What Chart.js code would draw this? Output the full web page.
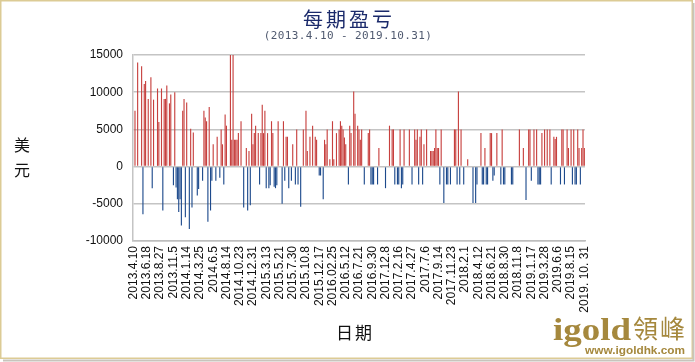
<!DOCTYPE html>
<html>
<head>
<meta charset="utf-8">
<script src="https://cdn.jsdelivr.net/npm/chart.js@4/dist/chart.umd.min.js"></script>
<style>
  html, body { margin: 0; padding: 0; background: #fff; }
  #wrap { position: relative; width: 695px; height: 362px; }
</style>
</head>
<body>
<div id="wrap"><canvas id="pnl-chart" width="695" height="362"></canvas></div>
<script>
// tick labels, one every 10 periods
const tickLabels = ['2013.4.10', '2013.6.18', '2013.8.27', '2013.11.5', '2014.1.14', '2014.3.25', '2014.6.5',
    '2014.8.14', '2014.10.23', '2014.12.31', '2015.3.13', '2015.5.21', '2015.7.30', '2015.10.8', '2015.12.17',
    '2016.02.25', '2016.5.12', '2016.7.21', '2016.9.30', '2017.12.8', '2017.2.16', '2017.4.27', '2017.7.6',
    '2017.9.14', '2017.11.23', '2018.2.1', '2018.4.12', '2018.6.21', '2018.8.30', '2018.11.8', '2019.1.17',
    '2019.3.28', '2019.6.6', '2019.8.15', '2019. 10. 31'];

// profit / loss per period (USD)
const pnlValues = [
    0, 7500, 0, 14000, 0, 0, 13500, -6400, 11100, 11500, 0, 9100, 0, 12000, -2900, 9000, 0, 0,
    10500, 6000, 0, 10500, -5900, 9100, 9100, 10900, 0, 8500, 9700, 0, -2500, 10000, -2800, -4400, -6100,
    -4400, -7900, 7500, 9100, -6800, 8600, 0, -8400, 5100, -5500, 4600, 0, 0, -3900, -3000, 0, 0,
    -1900, 7500, 6600, 6100, -7400, 8000, -5900, -1900, 3000, 0, -1900, 4000, 0, -1500, 5000, 3000, -2400,
    7000, 5500, 0, 0, 16000, 3600, 16000, 3600, 3600, 3600, 4500, 0, 6100, 0, -5500, 0,
    2500, -5900, 2100, -5200, 7100, 3000, 4500, 5500, 0, 4500, -2400, 4500, 8300, 4500, 7500, -2900, 4500,
    -2900, -2500, 6100, 4500, -2700, -2900, -2500, 6100, 0, 0, -5000, 6100, -1900, 4000, 4000, -2900, 0,
    -1900, 3000, 0, -2400, 5000, -2400, 0, -5400, 0, 5000, 0, 7500, 2100, 0, 4000, 0, 5500, 0, 4000,
    3600, 0, -1200, -1200, 0, -4400, 3600, 3000, 5000, 0, 1000, 0, 6100, 1000, 0,
    4500, 0, 5000, 6100, 5500, 5000, 3900, 3000, 0, -2400, 5500, 4500, 0, 10100, 7100, 0, 5500, 5000,
    3600, 5000, 0, -2400, 0, 0, 4500, 5000, -2400, -2400, -2400, 0, 0, -2400, 2500, 0,
    0, 0, 0, -2900, 0, 0, 5500, 0, 5000, 5000, -2400, 0, -2400, -2400, 5000, -2900, -2400, 5000, 0, 0,
    0, 5000, 0, -2400, 0, 5000, 3600, 5000, -2400, 4000, 5000, -2400, 3000, 0,
    5000, 0, 0, 2100, 2100, 2100, 2500, 5000, 2500, 2500, -2400, 5000, 0, -4900, 0, -2400, -2400, 0,
    -2400, 0, 0, 5000, 5000, -2400, 10100, -2400, 5000, 0, -2400, 0, 0, 1000, 0,
    0, 0, -4900, 0, -4900, -2400, 0, 0, 4500, -2400, -2400, 2500, -2400, -2400, 0, 4500, 4500, -1900,
    -1200, 0, 4500, 0, 0, -2400, 5000, -2400, -2400, 0, 0, 0, 0, -2400, -2400, 0,
    0, 0, 0, 5000, 0, 0, 2500, 0, -4500, 0, 5000, 5000, -1900, 0, 5000, 0, 5000, -2400, -2400, -2400,
    4500, 0, 5000, 0, 5000, 0, 5000, -2400, 0, 4000, 3700, 4000, 0, 0,
    -2400, 5000, 5000, -2400, 0, 5000, 2500, 0, 5000, -2400, 5000, -2400, -2400, 5000, 2500, -2400,
    2500, 5000, 2500
];

const yTicks = [15000, 10000, 5000, 0, -5000, -10000];

// category labels: a date on every 10th period
const categories = pnlValues.map((v, i) => (i % 10 === 0 ? tickLabels[i / 10] : ''));

const GOLD = '#a5883d';

// titles, axis names, watermark and frame
const decorPlugin = {
    id: 'decor',
    beforeDraw(chart) {
        const ctx = chart.ctx;
        ctx.save();
        ctx.fillStyle = '#fff';
        ctx.fillRect(0, 0, chart.width, chart.height);
        ctx.restore();
    },
    afterDraw(chart) {
        const ctx = chart.ctx;
        ctx.save();
        ctx.textAlign = 'center';
        ctx.textBaseline = 'middle';

        ctx.fillStyle = '#1b2a6b';
        ctx.font = '20px "Noto Sans CJK SC"';
        ctx.letterSpacing = '3px';
        ctx.fillText('每期盈亏', 349, 19);

        ctx.fillStyle = '#4f596f';
        ctx.font = '11px "DejaVu Sans Mono"';
        ctx.letterSpacing = '0.4px';
        ctx.fillText('(2013.4.10 - 2019.10.31)', 348, 36);

        ctx.letterSpacing = '0px';
        ctx.fillStyle = '#111';
        ctx.font = '16px "Noto Sans CJK SC"';
        ctx.fillText('美', 22, 145);
        ctx.fillText('元', 22, 170);

        ctx.font = '17px "Noto Sans CJK SC"';
        ctx.letterSpacing = '2px';
        ctx.fillText('日期', 355, 333);
        ctx.letterSpacing = '0px';

        // watermark
        ctx.fillStyle = GOLD;
        ctx.textAlign = 'left';
        ctx.textBaseline = 'alphabetic';
        ctx.font = 'bold 31px "Liberation Serif"';
        let w = ctx.measureText('igold').width;
        ctx.save();
        ctx.translate(553, 340);
        ctx.scale(78 / w, 1);
        ctx.fillText('igold', 0, 0);
        ctx.restore();

        ctx.font = '25px "Noto Sans CJK TC"';
        ctx.letterSpacing = '2px';
        ctx.fillText('領峰', 633, 338);
        ctx.letterSpacing = '0px';

        ctx.font = 'bold 11px "Liberation Sans"';
        w = ctx.measureText('www.igoldhk.com').width;
        ctx.save();
        ctx.translate(585, 354);
        ctx.scale(100 / w, 1);
        ctx.fillText('www.igoldhk.com', 0, 0);
        ctx.restore();

        // frame
        ctx.strokeStyle = '#dccb95';
        ctx.lineWidth = 1.5;
        ctx.strokeRect(0.75, 0.75, 691.5, 357.5);
        ctx.strokeStyle = '#c8c4bc';
        ctx.lineWidth = 2;
        ctx.beginPath();
        ctx.moveTo(693.5, 3);
        ctx.lineTo(693.5, 360.5);
        ctx.lineTo(3, 360.5);
        ctx.stroke();
        ctx.restore();
    }
};

const ctxPnl = document.getElementById('pnl-chart').getContext('2d');
new Chart(ctxPnl, {
    type: 'bar',
    data: {
        labels: categories,
        datasets: [{
            data: pnlValues,
            backgroundColor: pnlValues.map(v => (v >= 0 ? '#c7403e' : '#1d4a8c')),
            barPercentage: 1.0,
            categoryPercentage: 0.85
        }]
    },
    options: {
        responsive: false,
        animation: false,
        layout: {
            padding: { left: 0, right: 110, top: 55, bottom: 0 }
        },
        plugins: {
            legend: { display: false },
            tooltip: { enabled: false }
        },
        scales: {
            x: {
                afterFit: scale => { scale.height = 121; },
                grid: { display: false, drawTicks: false },
                border: { display: true, color: '#bdbdbd', width: 1.5 },
                ticks: {
                    autoSkip: false,
                    maxRotation: 90,
                    minRotation: 90,
                    padding: 5,
                    color: '#111',
                    font: { family: 'Liberation Sans', size: 12 }
                }
            },
            y: {
                min: -10000,
                max: 15000,
                afterFit: scale => { scale.width = 133; },
                afterBuildTicks: scale => { scale.ticks = yTicks.map(v => ({ value: v })); },
                grid: { color: '#c4c4c4', lineWidth: 1.5, drawTicks: false },
                border: { display: true, color: '#c4c4c4', width: 1.5 },
                ticks: {
                    padding: 10,
                    color: '#111',
                    font: { family: 'Liberation Sans', size: 12 },
                    callback: value => String(value)
                }
            }
        }
    },
    plugins: [decorPlugin]
});
</script>
</body>
</html>
